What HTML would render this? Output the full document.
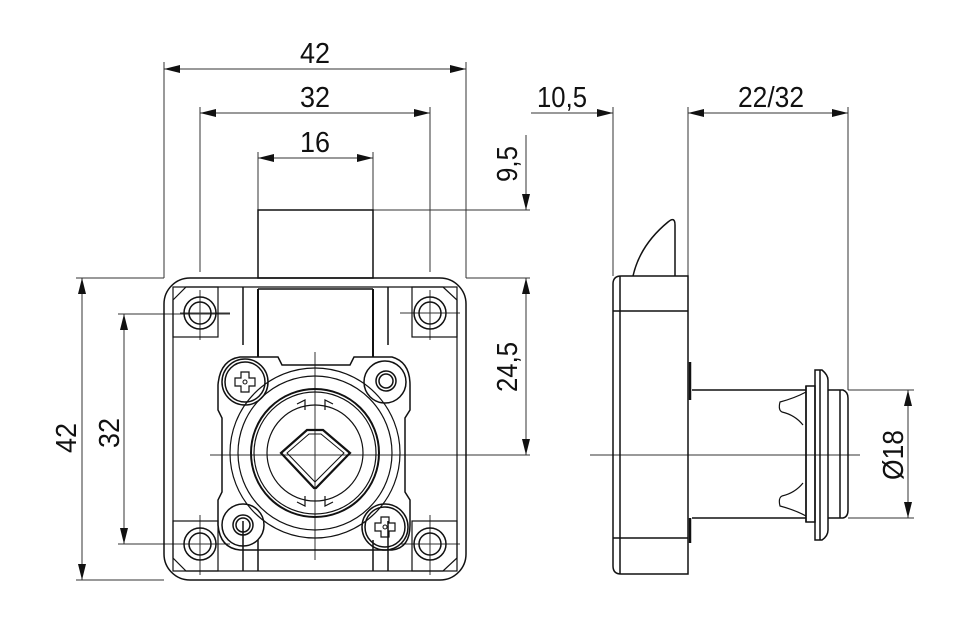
<!DOCTYPE html>
<html><head><meta charset="utf-8"><style>
html,body{margin:0;padding:0;background:#fff;}
svg{display:block}
text{font-family:"Liberation Sans",sans-serif;font-size:29px;fill:#111}
</style></head><body>
<svg width="960" height="628" viewBox="0 0 960 628" xmlns="http://www.w3.org/2000/svg">
<defs>
<marker id="a" markerWidth="16" markerHeight="8" refX="16" refY="4" orient="auto-start-reverse" markerUnits="userSpaceOnUse">
<path d="M0,0 L16,4 L0,8 Z" fill="#111"/></marker>
</defs>
<g stroke="#333" stroke-width="1" fill="none">
<line x1="164" y1="62" x2="164" y2="278"/>
<line x1="466" y1="62" x2="466" y2="278"/>
<line x1="200" y1="107" x2="200" y2="272"/>
<line x1="430" y1="107" x2="430" y2="272"/>
<line x1="258" y1="152" x2="258" y2="210"/>
<line x1="373" y1="152" x2="373" y2="210"/>
<line x1="373" y1="210" x2="530" y2="210"/>
<line x1="466" y1="278" x2="530" y2="278"/>
<line x1="430" y1="455" x2="530" y2="455"/>
<line x1="76" y1="278" x2="164" y2="278"/>
<line x1="76" y1="580" x2="164" y2="580"/>
<line x1="118" y1="314" x2="230" y2="314"/>
<line x1="118" y1="544" x2="230" y2="544"/>
<line x1="613" y1="107" x2="613" y2="276"/>
<line x1="688" y1="107" x2="688" y2="276"/>
<line x1="848" y1="107" x2="848" y2="390"/>
<line x1="848" y1="390" x2="914" y2="390"/>
<line x1="848" y1="518" x2="914" y2="518"/>
<line x1="164" y1="69" x2="466" y2="69" marker-start="url(#a)" marker-end="url(#a)"/>
<line x1="200" y1="113" x2="430" y2="113" marker-start="url(#a)" marker-end="url(#a)"/>
<line x1="258" y1="158" x2="373" y2="158" marker-start="url(#a)" marker-end="url(#a)"/>
<line x1="526" y1="135" x2="526" y2="210" marker-end="url(#a)"/>
<line x1="526" y1="278" x2="526" y2="455" marker-start="url(#a)" marker-end="url(#a)"/>
<line x1="82" y1="278" x2="82" y2="580" marker-start="url(#a)" marker-end="url(#a)"/>
<line x1="124" y1="314" x2="124" y2="544" marker-start="url(#a)" marker-end="url(#a)"/>
<line x1="531" y1="113" x2="613" y2="113" marker-end="url(#a)"/>
<line x1="688" y1="113" x2="848" y2="113" marker-start="url(#a)" marker-end="url(#a)"/>
<line x1="908" y1="390" x2="908" y2="518" marker-start="url(#a)" marker-end="url(#a)"/>
<line x1="210" y1="455" x2="470" y2="455"/>
<line x1="315" y1="352" x2="315" y2="560"/>
<line x1="590" y1="455" x2="860" y2="455"/>
<line x1="180" y1="313" x2="230" y2="313"/><line x1="200" y1="290" x2="200" y2="340"/>
<line x1="400" y1="313" x2="460" y2="313"/><line x1="430" y1="290" x2="430" y2="340"/>
<line x1="170" y1="544" x2="230" y2="544"/><line x1="200" y1="515" x2="200" y2="575"/>
<line x1="400" y1="544" x2="460" y2="544"/><line x1="430" y1="515" x2="430" y2="575"/>
</g>
<g stroke="#111" stroke-width="1.5" fill="none">
<rect x="164" y="278" width="302" height="302" rx="26"/>
<path d="M173,300 L186,287 L443,287 L457,300 L457,558 L443,571 L186,571 L173,558 Z" stroke-width="1.2"/>
<rect x="258" y="210" width="115" height="68"/>
<line x1="258" y1="289" x2="373" y2="289"/>
<line x1="258" y1="289" x2="258" y2="357" stroke-width="2"/>
<line x1="373" y1="289" x2="373" y2="357" stroke-width="2"/>
<line x1="243" y1="287" x2="243" y2="345"/>
<line x1="388" y1="287" x2="388" y2="345"/>
<rect x="173" y="287" width="45" height="50" stroke-width="1.2"/>
<rect x="412" y="287" width="45" height="50" stroke-width="1.2"/>
<rect x="173" y="521" width="45" height="50" stroke-width="1.2"/>
<rect x="412" y="521" width="45" height="50" stroke-width="1.2"/>
<line x1="243" y1="521" x2="243" y2="571"/><line x1="388" y1="521" x2="388" y2="571"/>
<line x1="258" y1="540" x2="258" y2="571"/><line x1="373" y1="540" x2="373" y2="571"/>
<circle cx="200" cy="313" r="16"/><circle cx="200" cy="313" r="11"/>
<circle cx="430" cy="313" r="16"/><circle cx="430" cy="313" r="11"/>
<circle cx="200" cy="544" r="16"/><circle cx="200" cy="544" r="11"/>
<circle cx="430" cy="544" r="16"/><circle cx="430" cy="544" r="11"/>
<path d="M240,357 L278,357 L282,365 L350,365 L354,357 L392,357 Q410,362 410,385 L410,410 L405,418 L405,492 L410,500 L410,525 Q410,548 392,550 L240,550 Q220,548 218,525 L218,500 L222,492 L222,418 L218,410 L218,385 Q220,360 240,357 Z"/>
<circle cx="245" cy="382" r="23"/><circle cx="245" cy="382" r="20"/>
<path d="M241,372 h8 v6 h6 v8 h-6 v6 h-8 v-6 h-6 v-8 h6 z" stroke-width="1.2"/><circle cx="245" cy="382" r="2" stroke-width="1"/>
<circle cx="385" cy="382" r="21"/><circle cx="386" cy="381" r="10"/><circle cx="386" cy="381" r="7"/>
<circle cx="243" cy="525" r="21"/><circle cx="243" cy="525" r="10"/><circle cx="243" cy="525" r="7"/>
<circle cx="385" cy="527" r="23"/><circle cx="385" cy="527" r="20"/>
<path d="M381,517 h8 v6 h6 v8 h-6 v6 h-8 v-6 h-6 v-8 h6 z" stroke-width="1.2"/><circle cx="385" cy="527" r="2" stroke-width="1"/>
<circle cx="315" cy="453" r="85" stroke-width="1.2"/>
<circle cx="315" cy="453" r="77" stroke-width="1.2"/>
<circle cx="315" cy="453" r="64" stroke-width="2"/>
<circle cx="315" cy="453" r="61" stroke-width="1.2"/>
<circle cx="315" cy="453" r="48" stroke-width="1.2"/>
<path d="M297,404 L305,400 L305,410 M333,404 L325,400 L325,410 M297,502 L305,506 L305,496 M333,502 L325,506 L325,496" stroke-width="1.2"/>
<path d="M307,430 L323,430 L350,453 L316,488 L314,488 L281,453 Z" stroke-width="2.2"/>
<path d="M309,434 L321,434 L344,453 L315,482 L287,453 Z" stroke-width="1"/>
<path d="M621,276 L688,276 L688,574 L621,574 Q613,574 613,566 L613,284 Q613,276 621,276 Z"/>
<line x1="620" y1="276" x2="620" y2="574"/>
<line x1="613" y1="311" x2="688" y2="311"/>
<line x1="613" y1="538" x2="688" y2="538"/>
<path d="M633,276 Q640,245 668,222 Q675,216 675,225 L675,276"/>
<line x1="690" y1="362" x2="690" y2="400" stroke-width="2.5"/>
<line x1="690" y1="518" x2="690" y2="543" stroke-width="2.5"/>
<line x1="692" y1="390" x2="806" y2="390"/>
<line x1="692" y1="518" x2="806" y2="518"/>
<path d="M806,386 L806,522"/>
<path d="M806,392 Q795,398 780,402 Q778,410 782,412 Q795,415 803,425" stroke-width="1.2"/>
<path d="M803,483 Q795,493 782,496 Q778,498 780,506 Q795,510 806,516" stroke-width="1.2"/>
<rect x="806" y="386" width="9" height="136" />
<path d="M815,370 L822,370 Q828,375 828,380 L828,530 Q828,536 822,540 L815,540 Z"/>
<line x1="820" y1="370" x2="820" y2="540"/>
<path d="M828,390 L843,390 Q848,392 848,398 L848,510 Q848,517 843,518 L828,518"/>
<line x1="840" y1="390" x2="840" y2="518"/>
</g>
<text x="300" y="63" textLength="30" lengthAdjust="spacingAndGlyphs">42</text>
<text x="300" y="107" textLength="30" lengthAdjust="spacingAndGlyphs">32</text>
<text x="300" y="152" textLength="30" lengthAdjust="spacingAndGlyphs">16</text>
<text x="537" y="107" textLength="50" lengthAdjust="spacingAndGlyphs">10,5</text>
<text x="738" y="107" textLength="66" lengthAdjust="spacingAndGlyphs">22/32</text>
<text transform="translate(517,182) rotate(-90)" textLength="36" lengthAdjust="spacingAndGlyphs">9,5</text>
<text transform="translate(517,392) rotate(-90)" textLength="50" lengthAdjust="spacingAndGlyphs">24,5</text>
<text transform="translate(76,453) rotate(-90)" textLength="30" lengthAdjust="spacingAndGlyphs">42</text>
<text transform="translate(119,448) rotate(-90)" textLength="30" lengthAdjust="spacingAndGlyphs">32</text>
<text transform="translate(903,480) rotate(-90)" textLength="50" lengthAdjust="spacingAndGlyphs">Ø18</text>
</svg>
</body></html>
